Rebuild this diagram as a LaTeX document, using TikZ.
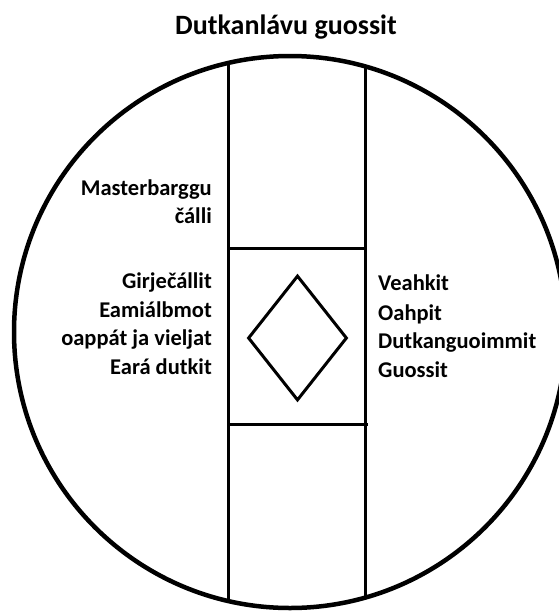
\documentclass[tikz,border=0pt]{standalone}
\usepackage{fontspec}
\setmainfont{Carlito}
\usetikzlibrary{positioning}
\usetikzlibrary{shapes.geometric}

\tikzset{ring/.style = {line width=4.5pt}}
\tikzset{divider/.style = {line width=3pt}}
\tikzset{lefttext/.style = {anchor=base east, inner sep=0,
                            font=\bfseries\fontsize{22.5}{29}\selectfont}}
\tikzset{righttext/.style = {anchor=base west, inner sep=0,
                             font=\bfseries\fontsize{22.5}{29}\selectfont}}
\tikzset{gem/.style = {draw, diamond, line width=3pt, inner sep=0,
                       minimum width=99pt, minimum height=125pt}}

\begin{document}
\begin{tikzpicture}[x=1pt, y=-1pt]
      \useasboundingbox (0,0) rectangle (559,611);

      \node[anchor=base, inner sep=0, font=\bfseries\fontsize{28}{34}\selectfont]
            (title) at (286,34) {Dutkanlávu guossit};

      % column and the two cross bars
      \coordinate (ctr) at (290,332);
      \begin{scope}
        \clip (ctr) circle [radius=276pt];
        \draw[divider] (228,0) -- (228,611);
        \draw[divider] (365,0) -- (365,611);
      \end{scope}
      \draw[divider] (228,248) -- (366,248);
      \draw[divider] (228,424) -- (368,424);
      \draw[ring] (ctr) circle [radius=276pt];

      \node[gem] (gem) at (297.5,338) {};

      \foreach \txt/\y [count=\i] in {Masterbarggu/195, čálli/223,
                     Girječállit/288, Eamiálbmot/317,
                     oappát ja vieljat/345, Eará dutkit/374}
        \node[lefttext] (left\i) at (212,\y) {\txt};

      \foreach \txt/\y [count=\i] in {Veahkit/290, Oahpit/320,
                     Dutkanguoimmit/348, Guossit/377}
        \node[righttext] (right\i) at (378,\y) {\txt};
    \end{tikzpicture}
\end{document}
